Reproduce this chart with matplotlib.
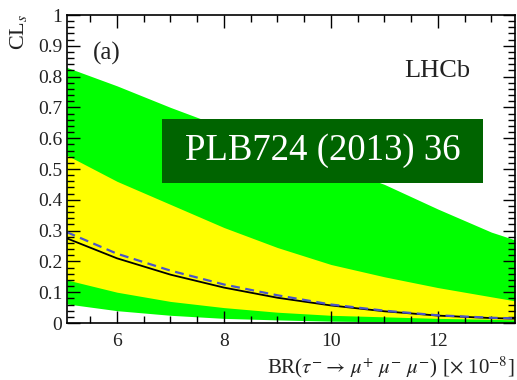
import matplotlib
matplotlib.use('Agg')
import matplotlib.pyplot as plt
from matplotlib.patches import Rectangle
from matplotlib.ticker import MultipleLocator

# values
br = [5.06, 6, 7, 8, 9, 10, 11, 12, 13, 13.44]
green_hi = [0.83, 0.77, 0.70, 0.635, 0.575, 0.515, 0.45, 0.37, 0.295, 0.27]
yellow_hi = [0.545, 0.46, 0.385, 0.31, 0.245, 0.19, 0.15, 0.115, 0.085, 0.072]
yellow_lo = [0.14, 0.10, 0.07, 0.05, 0.035, 0.025, 0.02, 0.015, 0.012, 0.01]
green_lo = [0.062, 0.04, 0.025, 0.015, 0.01, 0.006, 0.004, 0.003, 0.002, 0.002]
expected = [0.295, 0.225, 0.17, 0.125, 0.09, 0.06, 0.04, 0.025, 0.017, 0.015]
observed = [0.275, 0.21, 0.157, 0.115, 0.082, 0.057, 0.038, 0.024, 0.016, 0.014]

plt.rcParams['font.family'] = ['Liberation Serif', 'DejaVu Serif']
plt.rcParams['mathtext.fontset'] = 'stix'
txt = '#222222'

fig = plt.figure(figsize=(5.17, 3.8), dpi=100)
ax = fig.add_axes([0.1296, 0.15, 0.8664, 0.8105])

ax.fill_between(br, green_lo, green_hi, color='#00ff00', lw=0)
ax.fill_between(br, yellow_lo, yellow_hi, color='#ffff00', lw=0)
ax.plot(br, observed, color='black', lw=1.3)
ax.plot(br, expected, color='#4a55c8', lw=1.6, ls=(0, (4, 2.5)))

ax.set_xlim(5.065, 13.44)
ax.set_ylim(0, 1)
ax.xaxis.set_major_locator(MultipleLocator(2))
ax.xaxis.set_minor_locator(MultipleLocator(0.5))
ax.yaxis.set_minor_locator(MultipleLocator(0.02))
ax.set_yticks([0, 0.1, 0.2, 0.3, 0.4, 0.5, 0.6, 0.7, 0.8, 0.9, 1])
ax.set_yticklabels(['0', '0.1', '0.2', '0.3', '0.4', '0.5', '0.6', '0.7', '0.8', '0.9', '1'])
ax.tick_params(which='both', direction='in', top=True, right=True, colors='black',
               labelcolor=txt, labelsize=14, width=1)
ax.tick_params(which='major', length=9)
ax.tick_params(which='minor', length=5)
ax.tick_params(axis='x', pad=7)
for s in ax.spines.values():
    s.set_linewidth(1.2)

fig.text(0.035, 0.965, 'CL$_s$', rotation=90, ha='center', va='top', fontsize=16, color=txt)
fig.text(0.995, 0.018, r'BR($\tau^{-}\rightarrow\,\mu^{+}\ \mu^{-}\ \mu^{-}$) [$\times$ 10$^{-8}$]',
         ha='right', va='baseline', fontsize=15, color=txt)
ax.text(0.058, 0.854, '(a)', transform=ax.transAxes, va='baseline', fontsize=18, color=txt)
ax.text(0.9, 0.80, 'LHCb', transform=ax.transAxes, ha='right', va='baseline', fontsize=19, color=txt)

fig.patches.append(Rectangle((162 / 517, 1 - 183 / 380), 321 / 517, 64 / 380,
                             transform=fig.transFigure, facecolor='#006400', lw=0, zorder=5))
fig.text(322.5 / 517, 1 - 151 / 380, 'PLB724 (2013) 36', ha='center', va='center',
         fontsize=26.5, color='white', zorder=6)

fig.savefig('out.png', dpi=100)
